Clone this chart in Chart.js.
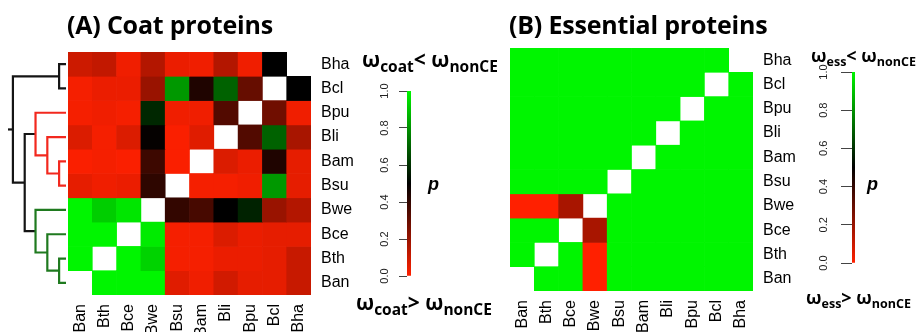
<!DOCTYPE html>
<html><head><meta charset="utf-8">
<script src="https://cdn.jsdelivr.net/npm/chart.js@4.4.1/dist/chart.umd.min.js"></script>
<style>
html,body{margin:0;padding:0;background:#fff;}
body{width:919px;height:332px;position:relative;overflow:hidden;}
canvas{position:absolute;}
.t{position:absolute;white-space:nowrap;color:#000;}
.title{font-family:'Open Sans',sans-serif;font-weight:700;font-size:25px;line-height:25px;letter-spacing:-0.2px;}
.lgA{font-family:'Open Sans',sans-serif;font-weight:700;font-size:21px;line-height:21px;}
.lgA .s{font-size:15.5px;vertical-align:-5px;}
.lgB{font-family:'Open Sans',sans-serif;font-weight:700;font-size:18px;line-height:18px;}
.lgB .s{font-size:12.5px;vertical-align:-4px;}
.pp{font-family:'Liberation Sans',Arial,sans-serif;font-weight:700;font-style:italic;font-size:18px;line-height:18px;}
</style></head><body>
<canvas id="dendro" width="68" height="287" style="left:0;top:45px"></canvas>
<canvas id="heatA" width="330" height="287" style="left:60px;top:45px"></canvas>
<canvas id="barA" width="41" height="208" style="left:370px;top:80px"></canvas>
<canvas id="heatB" width="340" height="292" style="left:500px;top:40px"></canvas>
<canvas id="barB" width="40" height="215" style="left:815px;top:60px"></canvas>

<div class="t title" style="left:67px;top:12px">(A) Coat proteins</div>
<div class="t title" style="left:509px;top:12px">(B) Essential proteins</div>
<div class="t lgA" style="left:362px;top:49px">ω<span class="s">coat</span>&lt; ω<span class="s">nonCE</span></div>
<div class="t lgA" style="left:356px;top:292px">ω<span class="s">coat</span>&gt; ω<span class="s">nonCE</span></div>
<div class="t lgB" style="left:811px;top:46px">ω<span class="s">ess</span>&lt; ω<span class="s">nonCE</span></div>
<div class="t lgB" style="left:806px;top:288px">ω<span class="s">ess</span>&gt; ω<span class="s">nonCE</span></div>
<div class="t pp" style="left:428px;top:175px">p</div>
<div class="t pp" style="left:867px;top:175px">p</div>

<script>
// ---------------- DATA ----------------
const colLabels = ['Ban','Bth','Bce','Bwe','Bsu','Bam','Bli','Bpu','Bcl','Bha'];
const rowLabels = ['Bha','Bcl','Bpu','Bli','Bam','Bsu','Bwe','Bce','Bth','Ban']; // top to bottom

// p values, panel A (rows top->bottom, columns as colLabels); null = diagonal
const pCoat = [
  [0.10, 0.12, 0.03, 0.15, 0.04, 0.03, 0.15, 0.03, 0.50, null],
  [0.02, 0.04, 0.04, 0.20, 0.81, 0.44, 0.70, 0.30, null, 0.50],
  [0.02, 0.03, 0.02, 0.58, 0.03, 0.03, 0.34, null, 0.28, 0.03],
  [0.07, 0.02, 0.07, 0.49, 0.01, 0.06, null, 0.34, 0.70, 0.17],
  [0.01, 0.02, 0.01, 0.38, 0.01, null, 0.07, 0.04, 0.44, 0.05],
  [0.05, 0.03, 0.04, 0.41, null, 0.02, 0.02, 0.03, 0.81, 0.05],
  [1.00, 0.92, 0.97, null, 0.40, 0.36, 0.50, 0.57, 0.20, 0.15],
  [1.00, 1.00, null, 0.98, 0.02, 0.02, 0.07, 0.04, 0.05, 0.05],
  [1.00, null, 1.00, 0.93, 0.02, 0.02, 0.04, 0.04, 0.05, 0.11],
  [null, 1.00, 1.00, 1.00, 0.06, 0.03, 0.09, 0.05, 0.05, 0.11]
];
// p values, panel B
const pEss = [
  [1, 1, 1, 1, 1, 1, 1, 1, 1, null],
  [1, 1, 1, 1, 1, 1, 1, 1, null, 1],
  [1, 1, 1, 1, 1, 1, 1, null, 1, 1],
  [1, 1, 1, 1, 1, 1, null, 1, 1, 1],
  [1, 1, 1, 1, 1, null, 1, 1, 1, 1],
  [1, 1, 1, 1, null, 1, 1, 1, 1, 1],
  [0.00, 0.00, 0.17, null, 1, 1, 1, 1, 1, 1],
  [1, 1, null, 0.17, 1, 1, 1, 1, 1, 1],
  [1, null, 1, 0.00, 1, 1, 1, 1, 1, 1],
  [null, 1, 1, 0.00, 1, 1, 1, 1, 1, 1]
];
// dendrogram (panel A rows): merges reference leaf names or earlier merge index
const dendroMerge = [
  ['Bha','Bcl'], ['Bam','Bsu'], ['Bth','Ban'], ['Bli',1], ['Bce',2],
  ['Bpu',3], ['Bwe',4], [5,6], [0,7]
];
const dendroHeight = [7, 7, 7, 19, 19, 31, 31, 42, 54];
const dendroGroup = ['other','red','green','red','green','red','green','other','other'];
const colorbarTicks = [0, 0.2, 0.4, 0.6, 0.8, 1.0];

// ---------------- STYLE ----------------
const RED = [255, 32, 0], BLACK = [0, 0, 0], GREEN = [0, 245, 0];
const groupColor = { other: '#141414', red: '#f2281e', green: '#1f7a1f' };
const dendroRootStub = 5;
Chart.defaults.font.family = "'Liberation Sans', Arial, sans-serif";
Chart.defaults.color = '#000';

function mix(a, b, t) { return a.map((v, i) => Math.round(v + (b[i] - v) * t)); }
function pColor(p) {
  const c = p <= 0.5 ? mix(RED, BLACK, p / 0.5) : mix(BLACK, GREEN, (p - 0.5) / 0.5);
  return 'rgb(' + c.join(',') + ')';
}

// ---------------- HEATMAPS ----------------
function heatmap(id, pm, o) {
  const n = rowLabels.length;
  const datasets = rowLabels.map((rl, r) => ({
    label: rl,
    data: colLabels.map((cl, c) => pm[r][c] == null ? null : [n - 1 - r, n - r]),
    backgroundColor: colLabels.map((cl, c) => pm[r][c] == null ? 'rgba(0,0,0,0)' : pColor(pm[r][c])),
    borderWidth: 0, barPercentage: 1, categoryPercentage: 1, grouped: false
  }));
  new Chart(document.getElementById(id), {
    type: 'bar',
    data: { labels: colLabels, datasets },
    options: {
      responsive: false, animation: false, events: [],
      layout: { padding: o.padding },
      plugins: { legend: { display: false }, tooltip: { enabled: false } },
      scales: {
        x: {
          grid: { display: false, drawTicks: false }, border: { display: false },
          ticks: { minRotation: 90, maxRotation: 90, autoSkip: false, padding: o.xPad, color: '#000', font: { size: 16 } },
          afterFit(a) { a.height = o.xH; a.paddingLeft = 0; a.paddingRight = 0; }
        },
        y: {
          position: 'right', min: 0, max: n,
          grid: { display: false, drawTicks: false }, border: { display: false },
          afterBuildTicks(a) { a.ticks = rowLabels.map((_, r) => ({ value: n - 0.5 - r })); },
          ticks: { autoSkip: false, padding: o.yPad, color: '#000', font: { size: 16 },
                   callback: v => rowLabels[Math.round(n - 0.5 - v)] },
          afterFit(a) { a.width = o.yW; a.paddingTop = 0; a.paddingBottom = 0; }
        }
      }
    }
  });
}
heatmap('heatA', pCoat, { padding: { left: 8, top: 7, right: 0, bottom: 0 }, xH: 37, yW: 79, xPad: 9, yPad: 10 });
heatmap('heatB', pEss,  { padding: { left: 10, top: 8, right: 0, bottom: 0 }, xH: 41, yW: 87, xPad: 9, yPad: 10 });

// ---------------- DENDROGRAM ----------------
(function () {
  const nodePos = [];
  const pos = ch => typeof ch === 'string' ? rowLabels.indexOf(ch) + 0.5 : nodePos[ch];
  const hgt = ch => typeof ch === 'string' ? 0 : dendroHeight[ch];
  dendroMerge.forEach((m, i) => { nodePos[i] = (pos(m[0]) + pos(m[1])) / 2; });
  const datasets = dendroMerge.map((m, i) => ({
    data: [
      { x: hgt(m[0]), y: pos(m[0]) }, { x: dendroHeight[i], y: pos(m[0]) },
      { x: dendroHeight[i], y: pos(m[1]) }, { x: hgt(m[1]), y: pos(m[1]) }
    ],
    borderColor: groupColor[dendroGroup[i]]
  }));
  const last = dendroMerge.length - 1;
  datasets.push({
    data: [{ x: dendroHeight[last], y: nodePos[last] }, { x: dendroHeight[last] + dendroRootStub, y: nodePos[last] }],
    borderColor: groupColor.other
  });
  datasets.forEach(d => Object.assign(d, { showLine: true, pointRadius: 0, borderWidth: 2.2, tension: 0,
    borderJoinStyle: 'miter', borderCapStyle: 'butt', fill: false, clip: false }));
  new Chart(document.getElementById('dendro'), {
    type: 'scatter',
    data: { datasets },
    options: {
      responsive: false, animation: false, events: [],
      layout: { padding: { left: 8, right: 2, top: 7, bottom: 37 } },
      plugins: { legend: { display: false }, tooltip: { enabled: false } },
      scales: {
        x: { type: 'linear', min: 0, max: dendroHeight[last] + dendroRootStub, reverse: true, display: false },
        y: { type: 'linear', min: 0, max: rowLabels.length, reverse: true, display: false }
      }
    }
  });
})();

// ---------------- COLOR BARS ----------------
const rotLabels = {
  id: 'rotLabels',
  afterDraw(chart, args, o) {
    const s = chart.scales.y, c = chart.ctx;
    c.save();
    c.font = "11px 'Liberation Sans', Arial, sans-serif";
    c.fillStyle = '#222'; c.textAlign = 'center'; c.textBaseline = 'middle';
    s.ticks.forEach(t => {
      c.save();
      c.translate(chart.chartArea.left - o.offset, s.getPixelForValue(t.value));
      c.rotate(-Math.PI / 2);
      c.fillText(t.value.toFixed(1), 0, 0);
      c.restore();
    });
    c.restore();
  }
};
function colorbar(id, o) {
  new Chart(document.getElementById(id), {
    type: 'bar',
    data: { labels: ['p'], datasets: [{
      data: [[0, 1]], borderWidth: 0, barPercentage: 1, categoryPercentage: 1,
      backgroundColor(ctx) {
        const a = ctx.chart.chartArea;
        if (!a) return pColor(0.5);
        const g = ctx.chart.ctx.createLinearGradient(0, a.bottom, 0, a.top);
        [0, 0.5, 1].forEach(s => g.addColorStop(s, pColor(s)));
        return g;
      }
    }] },
    options: {
      responsive: false, animation: false, events: [],
      layout: { padding: o.padding },
      plugins: { legend: { display: false }, tooltip: { enabled: false }, rotLabels: { offset: o.labelOffset } },
      scales: {
        x: { display: false },
        y: {
          position: 'left', min: 0, max: 1,
          afterBuildTicks(a) { a.ticks = colorbarTicks.map(v => ({ value: v })); },
          ticks: { display: false },
          grid: { drawOnChartArea: false, drawTicks: true, tickLength: o.tickLength, color: '#444', lineWidth: 1 },
          border: { display: false },
          afterFit(a) { a.width = o.yW; a.paddingTop = 0; a.paddingBottom = 0; }
        }
      }
    },
    plugins: [rotLabels]
  });
}
colorbar('barA', { padding: { left: 0, right: 0, top: 11, bottom: 12 }, yW: 37, tickLength: 8, labelOffset: 22 });
colorbar('barB', { padding: { left: 0, right: 0, top: 12, bottom: 12 }, yW: 37, tickLength: 11, labelOffset: 28 });
</script>
</body></html>
